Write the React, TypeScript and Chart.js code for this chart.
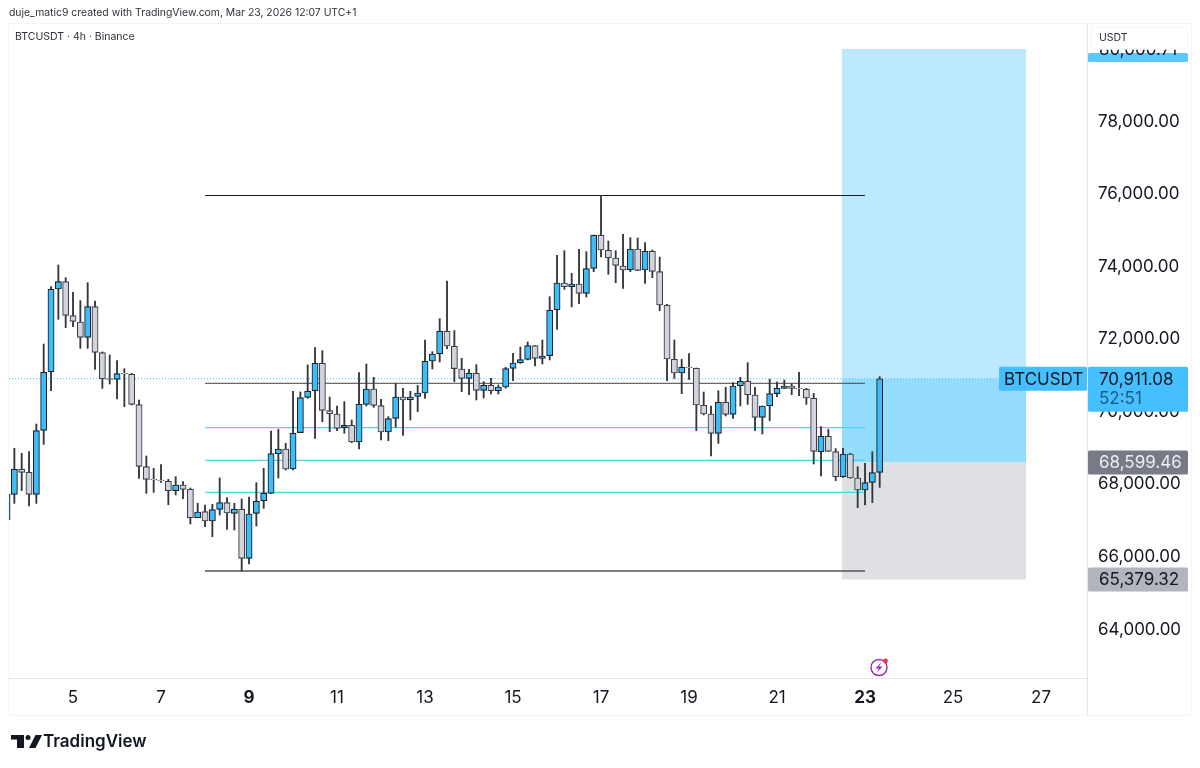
import React, { useEffect, useRef } from "react";
import { Chart, registerables } from "chart.js";

Chart.register(...registerables);

const opens = [
  67018, 67725, 68414, 68331, 67725, 69489, 71106, 73384, 73586, 72649,
  72475, 72052, 72897, 71629, 70913, 70894, 71060, 71032, 70196, 68487,
  68138, 68120, 68083, 67826, 67982, 67863, 67082, 67247, 66990, 67311,
  67495, 67201, 67311, 65961, 67201, 67550, 67752, 68846, 68974, 68423,
  69425, 70399, 70582, 71336, 70031, 69939, 69563, 69627, 69168, 70206,
  70628, 70169, 69443, 69820, 70408, 70334, 70426, 70518, 71400, 71602,
  72218, 71804, 71179, 70922, 71060, 70592, 70729, 70582, 70683, 71198,
  71354, 71446, 71823, 71473, 71547, 72814, 73549, 73448, 73521, 73264,
  73953, 74863, 74449, 74238, 74017, 73916, 74486, 73907, 74422, 73861,
  72933, 71445, 71068, 71225, 71198, 70178, 69939, 69406, 70261, 69930,
  70720, 70839, 70463, 69847, 70169, 70500, 70647, 70711, 70656, 70619,
  70371, 68901, 69324, 68901, 68212, 68837, 68175, 67844, 68056, 68331,
];
const highs = [
  67800, 68993, 68855, 68901, 69663, 71868, 73448, 74046, 73696, 73292,
  73063, 73559, 73053, 71650, 71565, 71409, 71188, 71060, 70325, 68781,
  68442, 68543, 68138, 68212, 68074, 67900, 67477, 67431, 67449, 68175,
  67633, 67477, 67596, 67651, 68046, 68442, 69470, 69516, 69131, 70564,
  70546, 71290, 71767, 71685, 70408, 70160, 70279, 69774, 71078, 71317,
  70950, 70343, 69866, 70784, 70647, 70564, 70729, 71979, 71657, 72567,
  73605, 72236, 71473, 71170, 71299, 70830, 70922, 70738, 71225, 71611,
  71786, 71924, 71823, 71979, 73173, 74311, 74440, 73815, 74477, 74412,
  74872, 75960, 74706, 74440, 74890, 74798, 74789, 74660, 74458, 74265,
  72961, 71978, 71445, 71601, 71207, 70545, 70160, 70582, 70674, 70803,
  70950, 71354, 70674, 70160, 70895, 70821, 70876, 70766, 71087, 70647,
  70509, 69590, 69517, 68984, 68993, 68855, 68488, 68579, 68901, 70968,
];
const lows = [
  66950, 67477, 67826, 67403, 67477, 69103, 70582, 72548, 72318, 72346,
  71749, 71749, 71170, 70646, 70766, 70352, 70141, 70187, 68166, 67752,
  67780, 68056, 67440, 67707, 67606, 66907, 67082, 66834, 66558, 67155,
  66760, 66742, 65612, 65805, 66852, 67339, 67752, 68175, 68396, 68396,
  69425, 70371, 69269, 69728, 69452, 69480, 69406, 69149, 68975, 70160,
  70123, 69223, 69204, 69572, 69351, 69774, 70004, 70371, 71179, 71372,
  71740, 70830, 70555, 70472, 70325, 70380, 70490, 70490, 70647, 70858,
  71336, 71428, 71262, 71317, 71428, 72272, 73374, 72887, 72979, 73163,
  73861, 74265, 73788, 73558, 73402, 73861, 73889, 73540, 73696, 72786,
  70857, 70921, 70499, 70894, 69480, 69912, 68782, 69131, 69884, 69820,
  70160, 70206, 69480, 69388, 69755, 70417, 70637, 70472, 70444, 70206,
  68561, 68230, 68910, 68102, 68194, 68166, 67358, 67431, 67495, 67918,
];
const closes = [
  67725, 68414, 68331, 67725, 69480, 71087, 73375, 73586, 72658, 72493,
  72052, 72897, 71639, 70913, 70894, 71051, 71041, 70205, 68497, 68138,
  68120, 68102, 67826, 67982, 67863, 67082, 67238, 66990, 67302, 67495,
  67210, 67311, 65961, 67183, 67532, 67752, 68846, 68974, 68423, 69406,
  70389, 70564, 71336, 70040, 69948, 69544, 69627, 69168, 70206, 70628,
  70178, 69443, 69811, 70408, 70325, 70408, 70518, 71391, 71593, 72218,
  71813, 71189, 70922, 71060, 70592, 70729, 70582, 70683, 71189, 71345,
  71437, 71823, 71473, 71538, 72796, 73549, 73448, 73521, 73264, 73944,
  74863, 74458, 74247, 74036, 73907, 74486, 73898, 74422, 73870, 72942,
  71454, 71068, 71225, 71206, 70187, 69939, 69406, 70261, 69930, 70711,
  70839, 70472, 69847, 70160, 70500, 70647, 70711, 70647, 70637, 70380,
  68910, 69324, 68910, 68212, 68837, 68175, 67844, 68047, 68322, 70911.08,
];

const dayTicks = [5, 7, 9, 11, 13, 15, 17, 19, 21, 23, 25, 27];
const boldDays = [9, 23];
const priceTicks = [64000, 66000, 68000, 70000, 72000, 74000, 76000, 78000];

const firstCandleDay = 3.5;
const candlesPerDay = 6;

const lastPrice = 70911.08;
const entryPrice = 68599.46;
const stopPrice = 65379.32;
const targetPrice = 80000.71;
const boxStartDay = 22.477;
const boxEndDay = 26.66;

const levelStartDay = 8;
const levelEndDay = 23;
const rangeHigh = 75960;
const rangeLow = 65612;
const midLevel = 70785;
const fibLevels = [69561, 68663, 67781];

const UP = "#3dbdf7";
const DOWN = "#d1d4dc";
const UP_EDGE = "#1c1f26";
const DOWN_EDGE = "#3c3f47";
const WICK = "#33363e";
const FONT = "Inter, 'Liberation Sans', sans-serif";

const candleDay = (i: number) => firstCandleDay + i / candlesPerDay;
const money = (v: number) =>
  v.toLocaleString("en-US", { minimumFractionDigits: 2, maximumFractionDigits: 2 });

const level = (price: number, color: string, width = 1) => ({
  type: "line" as const,
  data: [
    { x: levelStartDay, y: price },
    { x: levelEndDay, y: price },
  ],
  borderColor: color,
  borderWidth: width,
  pointRadius: 0,
  order: 3,
});

// long position box sits behind everything
const positionBox = {
  id: "positionBox",
  beforeDatasetsDraw(chart: any) {
    const { ctx, scales } = chart;
    const left = scales.x.getPixelForValue(boxStartDay);
    const right = scales.x.getPixelForValue(boxEndDay);
    const yTop = scales.y.getPixelForValue(targetPrice);
    const yLast = scales.y.getPixelForValue(lastPrice);
    const yEntry = scales.y.getPixelForValue(entryPrice);
    const yStop = scales.y.getPixelForValue(stopPrice);
    ctx.save();
    ctx.fillStyle = "#bce9ff";
    ctx.fillRect(left, yTop, right - left, yLast - yTop);
    ctx.fillStyle = "#95ddff";
    ctx.fillRect(left, yLast, right - left, yEntry - yLast);
    ctx.fillStyle = "#dfe0e4";
    ctx.fillRect(left, yEntry, right - left, yStop - yEntry);
    ctx.restore();
  },
};

const tag = (ctx: any, x: number, y: number, w: number, h: number, color: string) => {
  ctx.fillStyle = color;
  ctx.beginPath();
  ctx.roundRect(x, y, w, h, 1.5);
  ctx.fill();
};

const overlay = {
  id: "overlay",
  afterDraw(chart: any) {
    const { ctx, scales } = chart;
    const y = scales.y;
    ctx.save();

    // outer frame and axis separators
    ctx.strokeStyle = "#f4f5f7";
    ctx.lineWidth = 1;
    ctx.strokeRect(8.5, 23.5, 1183, 692);
    ctx.strokeStyle = "#e4e6eb";
    ctx.beginPath();
    ctx.moveTo(1087.5, 24);
    ctx.lineTo(1087.5, 715);
    ctx.stroke();

    ctx.textBaseline = "middle";
    ctx.textAlign = "left";
    ctx.fillStyle = "#2e3138";
    ctx.font = `10.4px ${FONT}`;
    ctx.fillText("duje_matic9 created with TradingView.com, Mar 23, 2026 12:07 UTC+1", 9, 13);
    ctx.font = `10.5px ${FONT}`;
    ctx.fillText("BTCUSDT · 4h · Binance", 15, 37);

    // target tag, half hidden under the currency box
    ctx.save();
    ctx.beginPath();
    ctx.rect(1088, 49.5, 100, 30);
    ctx.clip();
    const yTarget = y.getPixelForValue(targetPrice) + 1;
    tag(ctx, 1088, 53, 100, yTarget + 12 - 53, "#5bc8ff");
    ctx.fillStyle = "#131722";
    ctx.font = `17px ${FONT}`;
    ctx.fillText(money(targetPrice), 1099, yTarget);
    ctx.restore();

    ctx.fillStyle = "#ffffff";
    ctx.strokeStyle = "#f4f5f7";
    ctx.beginPath();
    ctx.roundRect(1091, 27, 97, 22, 4);
    ctx.fill();
    ctx.stroke();
    ctx.fillStyle = "#2e3138";
    ctx.font = `10.5px ${FONT}`;
    ctx.fillText("USDT", 1099, 38);

    // last price tags
    const yLast = y.getPixelForValue(lastPrice);
    tag(ctx, 999, yLast - 12, 88, 24, "#45bfff");
    tag(ctx, 1088, yLast - 12, 100, 45, "#45bfff");
    ctx.fillStyle = "#131722";
    ctx.font = `17px ${FONT}`;
    ctx.fillText("BTCUSDT", 1004, yLast + 1);
    ctx.fillText(money(lastPrice), 1099, yLast + 1);
    ctx.fillStyle = "#1d5a7c";
    ctx.fillText("52:51", 1099, yLast + 20);

    const yEntry = y.getPixelForValue(entryPrice);
    tag(ctx, 1088, yEntry - 12, 100, 24, "#787b86");
    ctx.fillStyle = "#eceef2";
    ctx.fillText(money(entryPrice), 1099, yEntry);

    const yStop = y.getPixelForValue(stopPrice);
    tag(ctx, 1088, yStop - 12, 100, 24, "#b2b5be");
    ctx.fillStyle = "#131722";
    ctx.fillText(money(stopPrice), 1099, yStop);

    // dividends-style marker above the time axis
    ctx.strokeStyle = "#9c27b0";
    ctx.lineWidth = 1.4;
    ctx.beginPath();
    ctx.arc(879, 667.5, 8, 0, Math.PI * 2);
    ctx.stroke();
    ctx.fillStyle = "#9c27b0";
    ctx.beginPath();
    ctx.moveTo(881.5, 662);
    ctx.lineTo(875.5, 668.5);
    ctx.lineTo(879, 668.5);
    ctx.lineTo(876.5, 673);
    ctx.lineTo(882.5, 666.5);
    ctx.lineTo(879, 666.5);
    ctx.closePath();
    ctx.fill();
    ctx.fillStyle = "#f23645";
    ctx.beginPath();
    ctx.arc(885.5, 661, 2.4, 0, Math.PI * 2);
    ctx.fill();

    // TradingView logo
    ctx.fillStyle = "#131722";
    ctx.fillRect(11, 735, 13, 4.5);
    ctx.fillRect(17, 735, 7, 13);
    ctx.beginPath();
    ctx.arc(28, 737.5, 2.5, 0, Math.PI * 2);
    ctx.fill();
    ctx.beginPath();
    ctx.moveTo(35.5, 735);
    ctx.lineTo(42, 735);
    ctx.lineTo(35.5, 748);
    ctx.lineTo(29, 748);
    ctx.closePath();
    ctx.fill();
    ctx.font = `600 17px ${FONT}`;
    ctx.fillText("TradingView", 43, 742);

    ctx.restore();
  },
};

export default function App() {
  const chartRef = useRef<HTMLCanvasElement>(null);

  useEffect(() => {
    const isUp = opens.map((o, i) => closes[i] >= o);

    const chartInstance = new Chart(chartRef.current as HTMLCanvasElement, {
      type: "bar",
      data: {
        datasets: [
          {
            data: closes.map((c, i) => ({ x: candleDay(i), y: [opens[i], c] })),
            backgroundColor: isUp.map((up) => (up ? UP : DOWN)),
            borderColor: isUp.map((up) => (up ? UP_EDGE : DOWN_EDGE)),
            borderWidth: 1.1,
            borderSkipped: false,
            barThickness: 6.2,
            grouped: false,
            order: 1,
          },
          {
            data: highs.map((h, i) => ({ x: candleDay(i), y: [lows[i], h] })),
            backgroundColor: WICK,
            borderWidth: 0,
            barThickness: 1.2,
            grouped: false,
            order: 2,
          },
          level(rangeHigh, "#1b1b1b"),
          level(rangeLow, "#555555", 1.5),
          level(midLevel, "#434343"),
          ...fibLevels.map((p) => level(p, "#55d0f3", 1.2)),
          {
            type: "line",
            data: [
              { x: 0, y: lastPrice },
              { x: 40, y: lastPrice },
            ],
            borderColor: "#45bfff",
            borderWidth: 1,
            borderDash: [1, 2],
            pointRadius: 0,
            order: 4,
          },
        ] as any,
      },
      options: {
        responsive: false,
        animation: false,
        events: [],
        layout: { padding: { left: 9, top: 24, right: 8, bottom: 53 } },
        plugins: { legend: { display: false }, tooltip: { enabled: false } },
        scales: {
          x: {
            type: "linear",
            offset: false,
            min: 3.545,
            max: 28.045,
            grid: { display: false, drawTicks: false },
            border: { color: "#e4e6eb" },
            afterBuildTicks: (axis: any) => {
              axis.ticks = dayTicks.map((value) => ({ value }));
            },
            afterFit: (axis: any) => {
              axis.height = 37;
            },
            ticks: {
              autoSkip: false,
              maxRotation: 0,
              padding: 10,
              color: "#131722",
              callback: (v: any) => String(v),
              font: (c: any) => ({
                family: FONT,
                size: 17,
                weight: boldDays.includes(c.tick?.value) ? "bold" : "normal",
              }),
            },
          },
          y: {
            position: "right",
            min: 62663,
            max: 80687,
            grid: { display: false, drawTicks: false },
            border: { color: "#e4e6eb" },
            afterBuildTicks: (axis: any) => {
              axis.ticks = priceTicks.map((value) => ({ value }));
            },
            afterFit: (axis: any) => {
              axis.width = 105;
            },
            ticks: {
              padding: 11,
              color: "#131722",
              callback: (v: any) => money(Number(v)),
              font: { family: FONT, size: 17 },
            },
          },
        },
      },
      plugins: [positionBox, overlay],
    } as any);

    return () => {
      chartInstance.destroy();
    };
  }, []);

  return (
    <div style={{ position: "fixed", left: 0, top: 0, width: 1200, height: 768, background: "#fff" }}>
      <canvas ref={chartRef} width={1200} height={768} style={{ display: "block" }} />
    </div>
  );
}
